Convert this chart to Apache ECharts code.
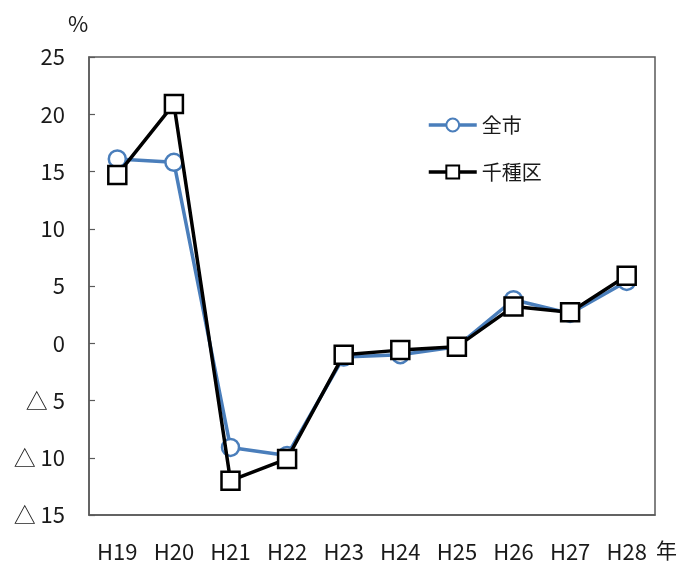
<!DOCTYPE html>
<html>
<head>
<meta charset="utf-8">
<script src="https://cdn.jsdelivr.net/npm/echarts@6/dist/echarts.min.js"></script>
<style>
html,body{margin:0;padding:0;background:#fff;}
#c{width:678px;height:564px;}
</style>
</head>
<body>
<div id="c"></div>
<script>
var categories = ['H19','H20','H21','H22','H23','H24','H25','H26','H27','H28'];
var cityValues = [16.1, 15.8, -9.1, -9.8, -1.2, -1.0, -0.3, 3.8, 2.6, 5.4];
var chikusaValues = [14.7, 20.9, -12.0, -10.1, -1.0, -0.6, -0.3, 3.2, 2.7, 5.9];
var seriesNames = ['全市', '千種区'];
var yMin = -15, yMax = 25, yStep = 5;

var FONT = '"Noto Sans CJK JP", "Noto Sans", sans-serif';
var axisColor = '#5a5a5a';
var textColor = '#1a1a1a';
var blue = '#4a7ebb';

var chart = echarts.init(document.getElementById('c'), null, {renderer: 'canvas'});
chart.setOption({
  backgroundColor: '#fff',
  animation: false,
  textStyle: {fontFamily: FONT},
  grid: {left: 89, top: 57, right: 23, bottom: 49, show: true, borderColor: axisColor, borderWidth: 1.5, containLabel: false},
  legend: {
    orient: 'vertical',
    left: 422, top: 110,
    itemWidth: 48, itemHeight: 16, itemGap: 27,
    textStyle: {fontSize: 20, color: textColor, fontFamily: FONT},
    data: [
      {name: seriesNames[0], lineStyle: {width: 3.5, color: blue}},
      {name: seriesNames[1], lineStyle: {width: 3.5, color: '#000'}}
    ]
  },
  xAxis: {
    type: 'category',
    data: categories,
    boundaryGap: true,
    axisLine: {onZero: false, lineStyle: {color: axisColor, width: 1.5}},
    axisTick: {inside: true, length: 6, lineStyle: {color: axisColor, width: 1.2}},
    axisLabel: {fontSize: 22, color: textColor, margin: 26, fontFamily: FONT},
    splitLine: {show: false}
  },
  yAxis: {
    type: 'value',
    min: yMin, max: yMax, interval: yStep,
    axisLine: {show: true, lineStyle: {color: axisColor, width: 1.5}},
    axisTick: {show: true, inside: true, length: 6, lineStyle: {color: axisColor, width: 1.2}},
    axisLabel: {
      fontSize: 22, color: textColor, margin: 24, fontFamily: FONT,
      formatter: function (v) { return v < 0 ? '△ ' + (-v) : String(v); }
    },
    splitLine: {show: false}
  },
  graphic: [
    {type: 'text', left: 68, top: 13, style: {text: '%', fontSize: 22, fill: textColor, fontFamily: FONT}},
    {type: 'text', left: 656, top: 540, style: {text: '年', fontSize: 21, fill: textColor, fontFamily: FONT}}
  ],
  series: [
    {
      name: seriesNames[0],
      type: 'line',
      data: cityValues,
      symbol: 'circle',
      symbolSize: 17,
      lineStyle: {color: blue, width: 3.5},
      itemStyle: {color: '#fff', borderColor: blue, borderWidth: 2.5},
      z: 2
    },
    {
      name: seriesNames[1],
      type: 'line',
      data: chikusaValues,
      symbol: 'rect',
      symbolSize: 18,
      lineStyle: {color: '#000', width: 3.5},
      itemStyle: {color: '#fff', borderColor: '#000', borderWidth: 2.5},
      z: 3
    }
  ]
});
</script>
</body>
</html>
